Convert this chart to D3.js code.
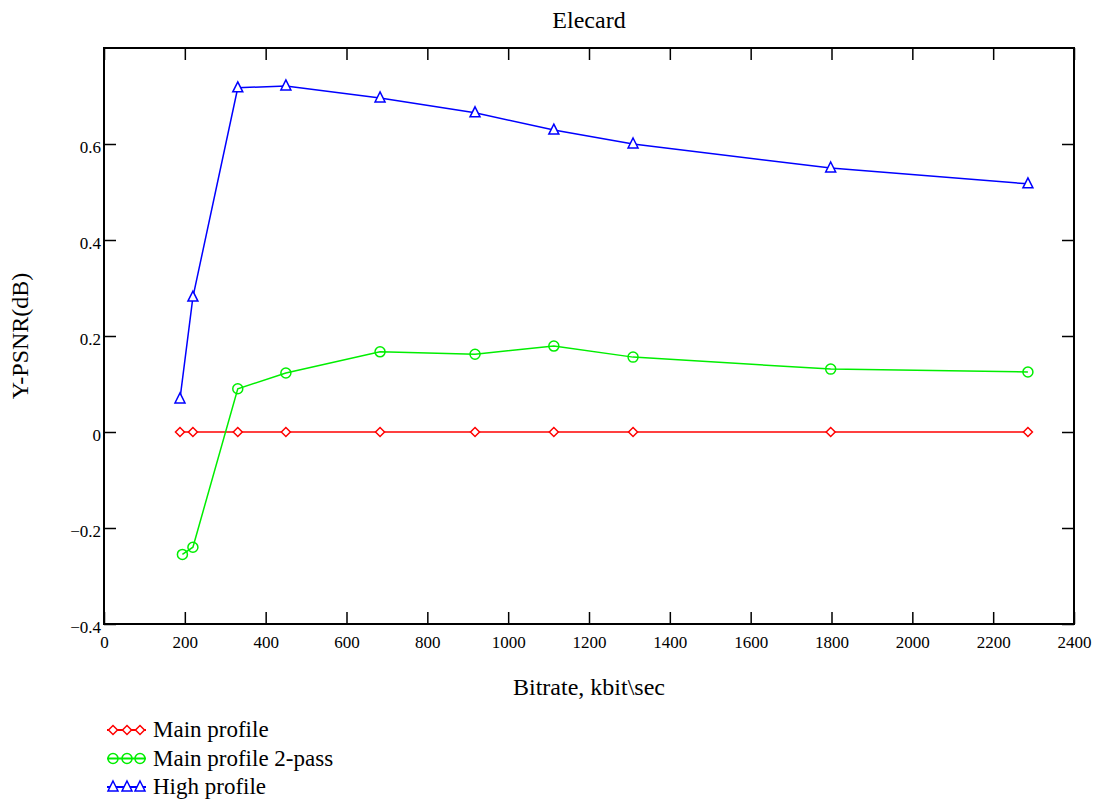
<!DOCTYPE html>
<html><head><meta charset="utf-8">
<script src="https://cdn.jsdelivr.net/npm/d3@7"></script>
<style>body{margin:0;background:#fff}svg{display:block}</style>
</head><body><svg id="c" width="1100" height="800"></svg>
<script>
const title = "Elecard";
const xLabel = "Bitrate, kbit\\sec";
const yLabel = "Y-PSNR(dB)";
const xTicks = [0,200,400,600,800,1000,1200,1400,1600,1800,2000,2200,2400];
const yTicks = [-0.4,-0.2,0,0.2,0.4,0.6];
const mainX = [188,220,331,450,683,918,1113,1309,1798,2286];
const mainY = [0,0,0,0,0,0,0,0,0,0];
const twoPassX = [194,220,331,450,683,918,1113,1309,1798,2286];
const twoPassY = [-0.255,-0.240,0.090,0.123,0.167,0.162,0.179,0.156,0.131,0.125];
const highX = [188,220,331,450,683,918,1113,1309,1798,2286];
const highY = [0.069,0.281,0.717,0.721,0.696,0.665,0.629,0.600,0.550,0.517];
const seriesNames = ["Main profile","Main profile 2-pass","High profile"];
const seriesColors = ["#ff0000","#00ee00","#0000ff"];
const seriesMarkers = ["diamond","circle","triangle"];

const FONT = '"Liberation Serif","Times New Roman",serif';
const svg = d3.select("#c");
const L=104, R=1074, T=48, B=624;
const x = d3.scaleLinear().domain([0,2400]).range([L,R]);
const y = d3.scaleLinear().domain([-0.4,0.8]).range([B,T]);

function marker(g, type, cx, cy, color){
  if(type==="circle"){
    g.append("circle").attr("cx",cx).attr("cy",cy).attr("r",5).attr("fill","none").attr("stroke",color).attr("stroke-width",1.5);
  } else if(type==="diamond"){
    const s=4.5;
    g.append("path").attr("d",`M${cx},${cy-s}L${cx+s},${cy}L${cx},${cy+s}L${cx-s},${cy}Z`).attr("fill","white").attr("stroke",color).attr("stroke-width",1.5);
  } else {
    const s=5;
    g.append("path").attr("d",`M${cx},${cy-s-1}L${cx+s},${cy+s-1}L${cx-s},${cy+s-1}Z`).attr("fill","white").attr("stroke",color).attr("stroke-width",1.5);
  }
}

// frame
svg.append("rect").attr("x",L).attr("y",T).attr("width",R-L).attr("height",B-T).attr("fill","none").attr("stroke","#000").attr("stroke-width",2);

// axes with inward ticks
const xb = svg.append("g").attr("transform",`translate(0,${B})`).call(d3.axisBottom(x).tickValues(xTicks).tickSizeInner(-12).tickSizeOuter(0).tickPadding(12).tickFormat(d3.format("d")));
const xt = svg.append("g").attr("transform",`translate(0,${T})`).call(d3.axisTop(x).tickValues(xTicks).tickSizeInner(-12).tickSizeOuter(0).tickFormat(""));
const yl = svg.append("g").attr("transform",`translate(${L},0)`).call(d3.axisLeft(y).tickValues(yTicks).tickSizeInner(-12).tickSizeOuter(0).tickPadding(3).tickFormat(d=>d===0?"0":d3.format(".1f")(d).replace("-","\u2212")));
const yr = svg.append("g").attr("transform",`translate(${R},0)`).call(d3.axisRight(y).tickValues(yTicks).tickSizeInner(-12).tickSizeOuter(0).tickFormat(""));
[xb,xt,yl,yr].forEach(a=>{a.select(".domain").remove();a.selectAll("line").attr("stroke","#000").attr("stroke-width",1.5);a.selectAll("text").style("font-family",FONT).style("font-size","17px").style("fill","#000");});
yl.selectAll("text").attr("dy","0.5em");

// series
const data = [[mainX,mainY],[twoPassX,twoPassY],[highX,highY]];
data.forEach(([xs,ys],i)=>{
  const pts = xs.map((v,j)=>[x(v),y(ys[j])]);
  svg.append("path").attr("d",d3.line()(pts)).attr("fill","none").attr("stroke",seriesColors[i]).attr("stroke-width",1.5);
  const g = svg.append("g");
  pts.forEach(p=>marker(g,seriesMarkers[i],p[0],p[1],seriesColors[i]));
});

function txt(){ return svg.append("text").style("font-family",FONT).style("fill","#000"); }
// titles
txt().attr("x",(L+R)/2).attr("y",28).attr("text-anchor","middle").style("font-size","24px").text(title);
txt().attr("x",(L+R)/2).attr("y",695).attr("text-anchor","middle").style("font-size","24px").text(xLabel);
txt().attr("transform",`translate(28,336) rotate(-90)`).attr("text-anchor","middle").style("font-size","24px").text(yLabel);

// legend
seriesNames.forEach((n,i)=>{
  const ly = 730 + i*28.5;
  svg.append("line").attr("x1",107).attr("x2",146).attr("y1",ly).attr("y2",ly).attr("stroke",seriesColors[i]).attr("stroke-width",2);
  const g = svg.append("g");
  [113,127,140].forEach(mx=>marker(g,seriesMarkers[i],mx,ly,seriesColors[i]));
  txt().attr("x",153).attr("y",ly+7).style("font-size","23px").text(n);
});
</script></body></html>
